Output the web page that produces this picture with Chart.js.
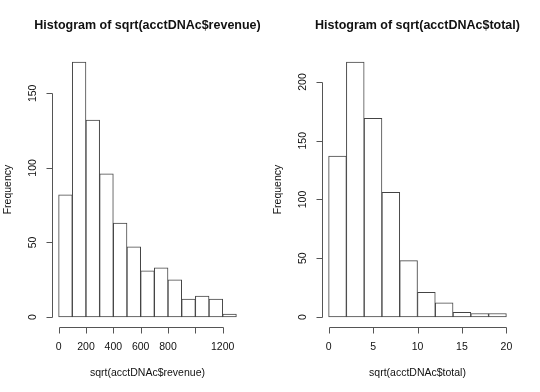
<!DOCTYPE html>
<html>
<head>
<meta charset="utf-8">
<script src="https://cdn.jsdelivr.net/npm/chart.js@4/dist/chart.umd.min.js"></script>
<style>
  body { margin: 0; background: #fff; }
  #wrap { display: flex; width: 540px; height: 392px; }
  canvas { display: block; }
</style>
</head>
<body>
<div id="wrap">
  <canvas id="histRevenue" width="270" height="392"></canvas>
  <canvas id="histTotal" width="270" height="392"></canvas>
</div>
<script>
// sqrt(acctDNAc$revenue): bins of width 100 from 0 to 1300
const revenueBreaks = [0, 100, 200, 300, 400, 500, 600, 700, 800, 900, 1000, 1100, 1200, 1300];
const revenueCounts = [82, 171, 132, 96, 63, 47, 31, 33, 25, 12, 14, 12, 2];
const revenueXTicks = [0, 200, 400, 600, 800, 1000, 1200];
const revenueXLabels = ['0', '200', '400', '600', '800', '', '1200'];
const revenueYTicks = [0, 50, 100, 150];

// sqrt(acctDNAc$total): bins of width 2 from 0 to 20
const totalBreaks = [0, 2, 4, 6, 8, 10, 12, 14, 16, 18, 20];
const totalCounts = [137, 217, 169, 106, 48, 21, 12, 4, 3, 3];
const totalXTicks = [0, 5, 10, 15, 20];
const totalXLabels = ['0', '5', '10', '15', '20'];
const totalYTicks = [0, 50, 100, 150, 200];

const FONT = '"Liberation Sans", Arial, Helvetica, sans-serif';
const INK = '#111';

// R-style axes, drawn from the chart's own scales
const rAxes = {
  id: 'rAxes',
  afterDraw(chart, args, opts) {
    const ctx = chart.ctx;
    const area = chart.chartArea;
    const xs = chart.scales.x;
    const ys = chart.scales.y;
    ctx.save();
    ctx.strokeStyle = '#555';
    ctx.lineWidth = 1;
    ctx.fillStyle = INK;

    // x axis
    const yb = Math.round(area.bottom) + 0.5;
    const x0 = Math.round(xs.getPixelForValue(opts.xTicks[0])) + 0.5;
    const x1 = Math.round(xs.getPixelForValue(opts.xTicks[opts.xTicks.length - 1])) + 0.5;
    ctx.beginPath();
    ctx.moveTo(x0, yb);
    ctx.lineTo(x1, yb);
    opts.xTicks.forEach(v => {
      const px = Math.round(xs.getPixelForValue(v)) + 0.5;
      ctx.moveTo(px, yb);
      ctx.lineTo(px, yb + 6);
    });
    ctx.stroke();
    ctx.font = '10.5px ' + FONT;
    ctx.textAlign = 'center';
    ctx.textBaseline = 'middle';
    opts.xTicks.forEach((v, i) => {
      ctx.fillText(opts.xLabels[i], xs.getPixelForValue(v), 347);
    });

    // y axis
    const xl = Math.round(area.left) + 0.5;
    const y0 = Math.round(ys.getPixelForValue(opts.yTicks[0])) + 0.5;
    const y1 = Math.round(ys.getPixelForValue(opts.yTicks[opts.yTicks.length - 1])) + 0.5;
    ctx.beginPath();
    ctx.moveTo(xl, y0);
    ctx.lineTo(xl, y1);
    opts.yTicks.forEach(v => {
      const py = Math.round(ys.getPixelForValue(v)) + 0.5;
      ctx.moveTo(xl, py);
      ctx.lineTo(xl - 6, py);
    });
    ctx.stroke();
    opts.yTicks.forEach(v => {
      ctx.save();
      ctx.translate(33, ys.getPixelForValue(v));
      ctx.rotate(-Math.PI / 2);
      ctx.fillText(String(v), 0, 0);
      ctx.restore();
    });

    // axis titles
    ctx.fillText(opts.xTitle, (area.left + area.right) / 2, 373);
    ctx.save();
    ctx.translate(8.5, (area.top + area.bottom) / 2);
    ctx.rotate(-Math.PI / 2);
    ctx.fillText('Frequency', 0, 0);
    ctx.restore();

    // main title
    ctx.font = 'bold 12.5px ' + FONT;
    ctx.fillText(opts.title, (area.left + area.right) / 2, 26);
    ctx.restore();
  }
};

function makeHist(id, breaks, counts, xLim, yLim, xTicks, xLabels, yTicks, xTitle) {
  const points = counts.map((c, i) => ({ x: (breaks[i] + breaks[i + 1]) / 2, y: c }));
  new Chart(document.getElementById(id), {
    type: 'bar',
    data: {
      datasets: [{
        data: points,
        backgroundColor: '#fff',
        borderColor: '#444',
        borderWidth: 1,
        borderSkipped: false,
        barPercentage: 1,
        categoryPercentage: 1
      }]
    },
    options: {
      responsive: false,
      animation: false,
      devicePixelRatio: 1,
      layout: { padding: { left: 51.5, right: 26.5, top: 51.8, bottom: 64.8 } },
      scales: {
        x: { type: 'linear', min: xLim[0], max: xLim[1], offset: false, display: false, grid: { offset: false } },
        y: { type: 'linear', min: yLim[0], max: yLim[1], display: false }
      },
      plugins: {
        legend: { display: false },
        tooltip: { enabled: false },
        title: { display: false },
        rAxes: { xTicks, xLabels, yTicks, xTitle, title: 'Histogram of ' + xTitle }
      }
    },
    plugins: [rAxes]
  });
}

makeHist('histRevenue', revenueBreaks, revenueCounts, [-52, 1352], [-6.84, 177.84],
  revenueXTicks, revenueXLabels, revenueYTicks, 'sqrt(acctDNAc$revenue)');
makeHist('histTotal', totalBreaks, totalCounts, [-0.8, 20.8], [-8.68, 225.68],
  totalXTicks, totalXLabels, totalYTicks, 'sqrt(acctDNAc$total)');
</script>
</body>
</html>
